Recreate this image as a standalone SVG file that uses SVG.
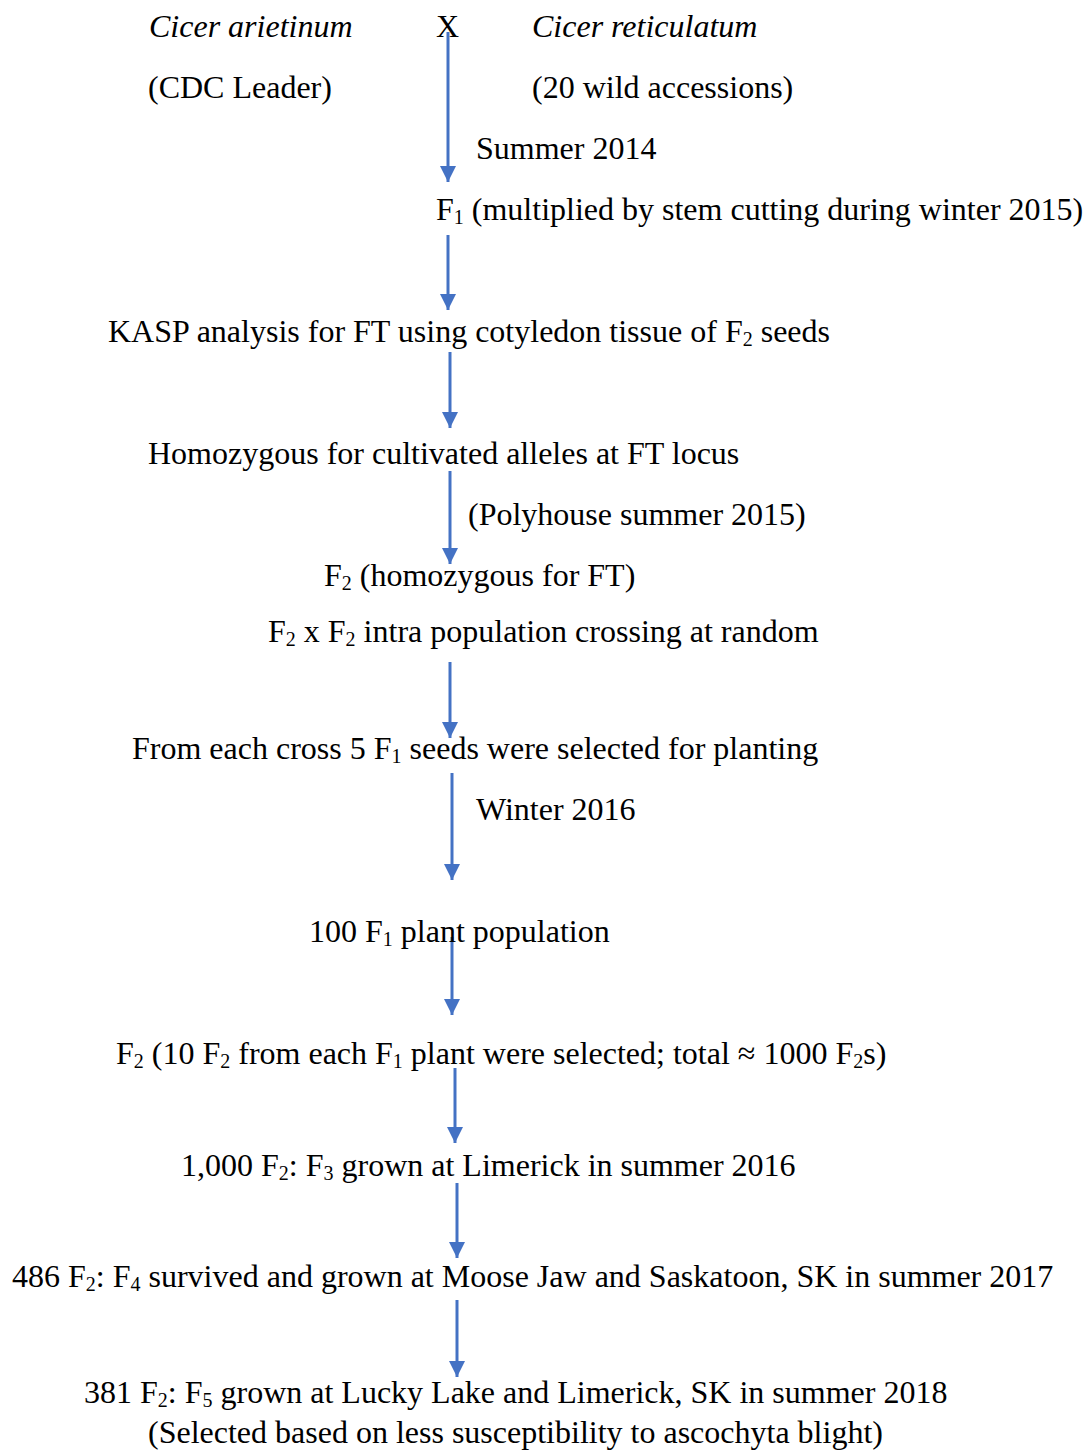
<svg xmlns="http://www.w3.org/2000/svg" width="1088" height="1450" viewBox="0 0 1088 1450">
<style>
text{font-family:"Liberation Serif","Times New Roman",serif;font-size:32px;fill:#000}
.i{font-style:italic}
.s{font-size:20px}
.c line{stroke:#4472C4;stroke-width:3}
</style>
<defs>
<marker id="ah" markerUnits="userSpaceOnUse" markerWidth="16" markerHeight="18" refX="16" refY="8" orient="auto">
<path d="M0,0 L16,8 L0,16 Z" fill="#4472C4"/>
</marker>
</defs>
<rect width="1088" height="1450" fill="#fff"/>
<g class="c">
<line x1="448" y1="32" x2="448" y2="182" marker-end="url(#ah)"/>
<line x1="448" y1="235" x2="448" y2="310" marker-end="url(#ah)"/>
<line x1="450" y1="352" x2="450" y2="428" marker-end="url(#ah)"/>
<line x1="450" y1="471" x2="450" y2="564" marker-end="url(#ah)"/>
<line x1="450" y1="662" x2="450" y2="738" marker-end="url(#ah)"/>
<line x1="452" y1="773" x2="452" y2="880" marker-end="url(#ah)"/>
<line x1="452" y1="937" x2="452" y2="1015" marker-end="url(#ah)"/>
<line x1="455" y1="1068" x2="455" y2="1143" marker-end="url(#ah)"/>
<line x1="457" y1="1183" x2="457" y2="1258" marker-end="url(#ah)"/>
<line x1="457" y1="1300" x2="457" y2="1377" marker-end="url(#ah)"/>
</g>
<g id="n1"><text class="i" x="149" y="37">Cicer arietinum</text><text x="436" y="37">X</text><text class="i" x="532" y="37">Cicer reticulatum</text></g>
<g id="n2"><text x="148" y="98">(CDC Leader)</text><text x="532" y="98">(20 wild accessions)</text></g>
<g id="n3"><text x="476" y="159">Summer 2014</text></g>
<g id="n4"><text x="436" y="220">F<tspan class="s" dy="4">1</tspan><tspan dy="-4"> (multiplied by stem cutting during winter 2015)</tspan></text></g>
<g id="n5"><text x="108" y="342">KASP analysis for FT using cotyledon tissue of F<tspan class="s" dy="4">2</tspan><tspan dy="-4"> seeds</tspan></text></g>
<g id="n6"><text x="148" y="464">Homozygous for cultivated alleles at FT locus</text></g>
<g id="n7"><text x="468" y="525">(Polyhouse summer 2015)</text></g>
<g id="n8"><text x="324" y="586">F<tspan class="s" dy="4">2</tspan><tspan dy="-4"> (homozygous for FT)</tspan></text></g>
<g id="n9"><text x="268" y="642">F<tspan class="s" dy="4">2</tspan><tspan dy="-4"> x F</tspan><tspan class="s" dy="4">2</tspan><tspan dy="-4"> intra population crossing at random</tspan></text></g>
<g id="n10"><text x="132" y="759">From each cross 5 F<tspan class="s" dy="4">1</tspan><tspan dy="-4"> seeds were selected for planting</tspan></text></g>
<g id="n11"><text x="476" y="820">Winter 2016</text></g>
<g id="n12"><text x="309" y="942">100 F<tspan class="s" dy="4">1</tspan><tspan dy="-4"> plant population</tspan></text></g>
<g id="n13"><text x="116" y="1064">F<tspan class="s" dy="4">2</tspan><tspan dy="-4"> (10 F</tspan><tspan class="s" dy="4">2</tspan><tspan dy="-4"> from each F</tspan><tspan class="s" dy="4">1</tspan><tspan dy="-4"> plant were selected; total ≈ 1000 F</tspan><tspan class="s" dy="4">2</tspan><tspan dy="-4">s)</tspan></text></g>
<g id="n14"><text x="181" y="1176">1,000 F<tspan class="s" dy="4">2</tspan><tspan dy="-4">: F</tspan><tspan class="s" dy="4">3</tspan><tspan dy="-4"> grown at Limerick in summer 2016</tspan></text></g>
<g id="n15"><text x="12" y="1287">486 F<tspan class="s" dy="4">2</tspan><tspan dy="-4">: F</tspan><tspan class="s" dy="4">4</tspan><tspan dy="-4"> survived and grown at Moose Jaw and Saskatoon, SK in summer 2017</tspan></text></g>
<g id="n16"><text x="84" y="1403">381 F<tspan class="s" dy="4">2</tspan><tspan dy="-4">: F</tspan><tspan class="s" dy="4">5</tspan><tspan dy="-4"> grown at Lucky Lake and Limerick, SK in summer 2018</tspan></text><text x="148" y="1443">(Selected based on less susceptibility to ascochyta blight)</text></g>
</svg>
